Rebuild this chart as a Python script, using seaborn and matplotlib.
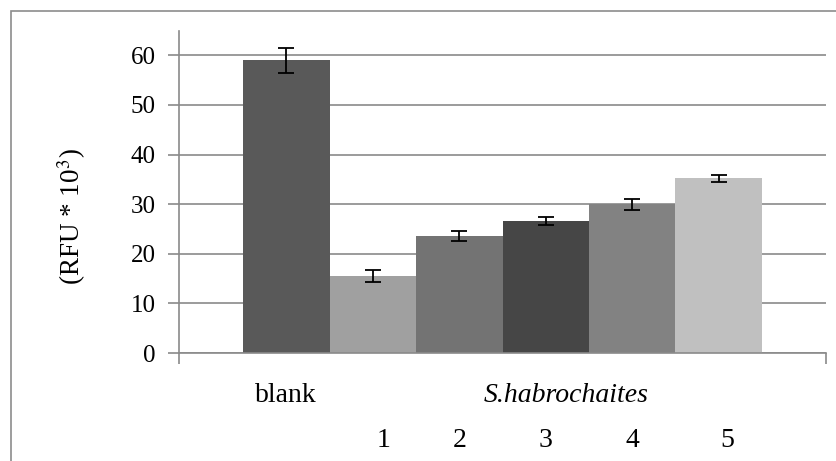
import matplotlib
matplotlib.use("Agg")
import matplotlib.pyplot as plt
import seaborn as sns
import pandas as pd
from matplotlib.patches import Rectangle

categories = ["blank", "1", "2", "3", "4", "5"]
values = [59.0, 15.5, 23.5, 26.6, 30.0, 35.2]
errors = [2.5, 1.2, 1.0, 0.8, 1.1, 0.65]
colors = ["#595959", "#a0a0a0", "#737373", "#464646", "#828282", "#c0c0c0"]
group_label = "S.habrochaites"
ylabel = "(RFU * 10$^3$)"
yticks = [0, 10, 20, 30, 40, 50, 60]

sns.set_theme(style="white")
plt.rcParams["font.family"] = ["Liberation Serif", "DejaVu Serif"]
plt.rcParams["mathtext.fontset"] = "stix"
plt.rcParams["text.color"] = "black"
plt.rcParams["ytick.labelcolor"] = "black"

W, H = 836, 461
fig = plt.figure(figsize=(W / 100, H / 100), dpi=100)
ax = fig.add_axes([179 / W, 1 - 353 / H, (826 - 179) / W, (353 - 31) / H])

df = pd.DataFrame({"cat": categories, "val": values})
sns.barplot(data=df, x="cat", y="val", hue="cat", palette=colors, width=1.0,
            legend=False, ax=ax, saturation=1, linewidth=0, errorbar=None)
xs = list(range(len(categories)))
ax.errorbar(xs, values, yerr=errors, fmt="none", ecolor="black",
            elinewidth=1.3, capsize=6, capthick=1.3, zorder=5)

gap = 0.74
xmin, xmax = -0.5 - gap, len(categories) - 0.5 + gap
ax.set_xlim(xmin, xmax)
ax.set_ylim(0, 64.9)
ax.set_yticks(yticks)
ax.set_yticklabels([str(t) for t in yticks], fontsize=18)
ax.set_xticks([xmin, xmax])
ax.set_xticklabels(["", ""])
gcol = "#8a8a8a"
ax.tick_params(axis="both", direction="out", length=8, width=1.2, color=gcol,
               pad=9, left=True, bottom=True)
ax.grid(axis="y", color=gcol, linewidth=1.2)
ax.set_axisbelow(True)
for s in ["top", "right"]:
    ax.spines[s].set_visible(False)
for s in ["left", "bottom"]:
    ax.spines[s].set_color(gcol)
    ax.spines[s].set_linewidth(1.2)
ax.set_xlabel("")
ax.set_ylabel("")

# category labels
tr = ax.get_xaxis_transform()
fs = 20
ax.text(0, -(395 - 353) / (353 - 31), categories[0], transform=tr,
        ha="center", va="center", fontsize=fs)
ax.text(3.23, -(395 - 353) / (353 - 31), group_label, transform=tr,
        ha="center", va="center", fontsize=fs, style="italic")
num_offsets = [0.13, 0.0, 0.0, 0.0, 0.1]
for i, c in enumerate(categories[1:]):
    ax.text(i + 1 + num_offsets[i], -(440 - 353) / (353 - 31), c, transform=tr,
            ha="center", va="center", fontsize=fs)

fig.text(72 / W, 1 - 217 / H, ylabel, rotation=90, ha="center", va="center",
         fontsize=19.5)

# outer chart border (extends beyond the image)
fig.patches.append(Rectangle((11 / W, -0.05), 1.2, 1 - 11.5 / H + 0.05,
                             transform=fig.transFigure, fill=False,
                             edgecolor="#8c8c8c", linewidth=1.2))

fig.savefig("out.png", dpi=100)
